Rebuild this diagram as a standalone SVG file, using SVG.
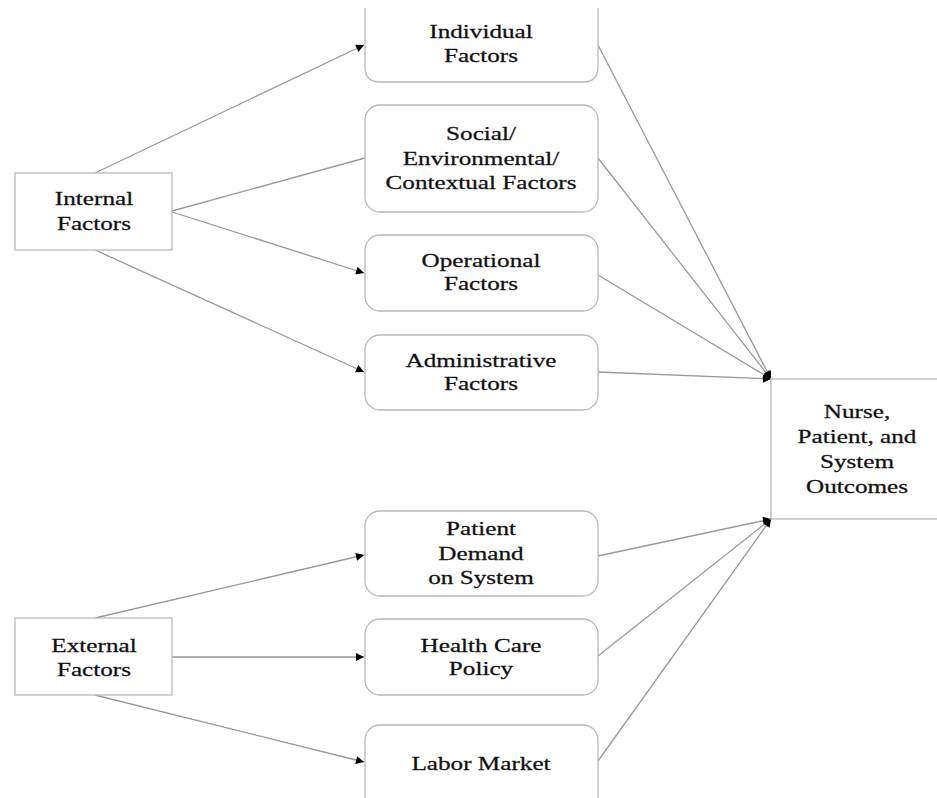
<svg xmlns="http://www.w3.org/2000/svg" width="937" height="798" viewBox="0 0 937 798">
<style>
.box{fill:#fff;stroke:#b8b8b8;stroke-width:1.3}
.ln{fill:none;stroke:#999;stroke-width:1.3}
.t{font-family:"Liberation Serif","Times New Roman",serif;font-size:18px;fill:#111;stroke:#111;stroke-width:0.25;text-anchor:middle}
</style>
<defs>
<marker id="ah" viewBox="0 0 10 10" refX="10" refY="5" markerWidth="11" markerHeight="8" markerUnits="userSpaceOnUse" orient="auto">
<path d="M0,0 L10,5 L0,10 z" fill="#000"/>
</marker>
</defs>
<rect width="937" height="798" fill="#fff"/>
<g id="connectors">
<line class="ln" x1="95" y1="173" x2="364" y2="45" marker-end="url(#ah)"/>
<line class="ln" x1="172" y1="211" x2="365" y2="158"/>
<line class="ln" x1="172" y1="212" x2="364" y2="273" marker-end="url(#ah)"/>
<line class="ln" x1="95" y1="250" x2="364" y2="372" marker-end="url(#ah)"/>
<line class="ln" x1="95" y1="618" x2="364" y2="555" marker-end="url(#ah)"/>
<line class="ln" x1="172" y1="657" x2="364" y2="657" marker-end="url(#ah)"/>
<line class="ln" x1="95" y1="695" x2="364" y2="762" marker-end="url(#ah)"/>
<line class="ln" x1="598" y1="45" x2="771" y2="379" marker-end="url(#ah)"/>
<line class="ln" x1="598" y1="158" x2="771" y2="379" marker-end="url(#ah)"/>
<line class="ln" x1="598" y1="275" x2="771" y2="379" marker-end="url(#ah)"/>
<line class="ln" x1="598" y1="372" x2="771" y2="379" marker-end="url(#ah)"/>
<line class="ln" x1="598" y1="556" x2="771" y2="519" marker-end="url(#ah)"/>
<line class="ln" x1="598" y1="656" x2="771" y2="519" marker-end="url(#ah)"/>
<line class="ln" x1="598" y1="761" x2="771" y2="519" marker-end="url(#ah)"/>
</g>
<g id="internal">
<rect class="box" x="15" y="173" width="157" height="77"/>
<text class="t" transform="translate(94,0) scale(1.4,1)"><tspan x="0" y="205">Internal</tspan><tspan x="0" y="230">Factors</tspan></text>
</g>
<g id="external">
<rect class="box" x="15" y="618" width="157" height="77"/>
<text class="t" transform="translate(94,0) scale(1.4,1)"><tspan x="0" y="652">External</tspan><tspan x="0" y="676">Factors</tspan></text>
</g>
<g id="individual">
<path class="box" d="M365,8 L365,67 Q365,82 380,82 L583,82 Q598,82 598,67 L598,8"/>
<text class="t" transform="translate(481,0) scale(1.4,1)"><tspan x="0" y="38">Individual</tspan><tspan x="0" y="62">Factors</tspan></text>
</g>
<g id="social">
<rect class="box" x="365" y="105" width="233" height="107" rx="15"/>
<text class="t" transform="translate(481,0) scale(1.4,1)"><tspan x="0" y="140">Social/</tspan><tspan x="0" y="165">Environmental/</tspan><tspan x="0" y="189">Contextual Factors</tspan></text>
</g>
<g id="operational">
<rect class="box" x="365" y="235" width="233" height="76" rx="15"/>
<text class="t" transform="translate(481,0) scale(1.4,1)"><tspan x="0" y="267">Operational</tspan><tspan x="0" y="290">Factors</tspan></text>
</g>
<g id="administrative">
<rect class="box" x="365" y="335" width="233" height="75" rx="15"/>
<text class="t" transform="translate(481,0) scale(1.4,1)"><tspan x="0" y="367">Administrative</tspan><tspan x="0" y="390">Factors</tspan></text>
</g>
<g id="patient-demand">
<rect class="box" x="365" y="511" width="233" height="85" rx="15"/>
<text class="t" transform="translate(481,0) scale(1.4,1)"><tspan x="0" y="535">Patient</tspan><tspan x="0" y="560">Demand</tspan><tspan x="0" y="584">on System</tspan></text>
</g>
<g id="health-care-policy">
<rect class="box" x="365" y="619" width="233" height="76" rx="15"/>
<text class="t" transform="translate(481,0) scale(1.4,1)"><tspan x="0" y="652">Health Care</tspan><tspan x="0" y="675">Policy</tspan></text>
</g>
<g id="labor-market">
<rect class="box" x="365" y="725" width="233" height="90" rx="15"/>
<text class="t" transform="translate(481,0) scale(1.4,1)"><tspan x="0" y="770">Labor Market</tspan></text>
</g>
<g id="outcomes">
<rect class="box" x="771" y="379" width="180" height="140"/>
<text class="t" transform="translate(857,0) scale(1.4,1)"><tspan x="0" y="418">Nurse,</tspan><tspan x="0" y="443">Patient, and</tspan><tspan x="0" y="468">System</tspan><tspan x="0" y="493">Outcomes</tspan></text>
</g>
</svg>
